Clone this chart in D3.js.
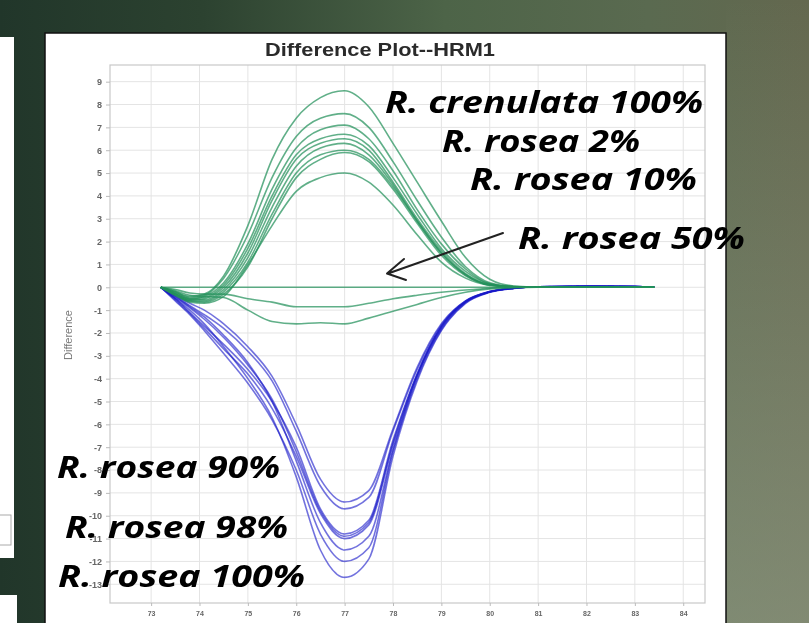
<!DOCTYPE html>
<html><head><meta charset="utf-8">
<script src="https://cdn.jsdelivr.net/npm/d3@7"></script>
<style>html,body{margin:0;padding:0;overflow:hidden;background:#2a3d2c}</style>
</head><body>
<svg id="c" width="809" height="623"></svg>
<script>
// ---- data ----
const temps = [73.2, 73.5, 73.8, 74.1, 74.5, 75, 75.5, 76, 76.5, 77, 77.5, 78, 78.5, 79, 79.5, 80, 80.5, 81, 82, 83, 83.4];

const greenSeries = [
  [0,-0.2,-0.4,-0.3,0.5,2.7,5.6,7.4,8.3,8.6,7.9,6.3,4.6,2.9,1.3,0.35,0.05,0,0,0,0],
  [0,-0.2,-0.45,-0.35,0.4,2.3,4.8,6.6,7.4,7.6,7.0,5.5,3.8,2.2,0.9,0.2,0.03,0,0,0,0],
  [0,-0.25,-0.5,-0.4,0.2,1.9,4.3,6.1,6.9,7.1,6.5,5.1,3.4,1.9,0.8,0.15,0.02,0,0,0,0],
  [0,-0.25,-0.5,-0.45,0.1,1.7,4.0,5.8,6.5,6.7,6.2,4.8,3.2,1.7,0.7,0.15,0.02,0,0,0,0],
  [0,-0.3,-0.55,-0.5,0,1.5,3.8,5.6,6.3,6.5,6.0,4.6,3.0,1.6,0.6,0.12,0.02,0,0,0,0],
  [0,-0.3,-0.55,-0.55,-0.1,1.3,3.5,5.3,6.1,6.3,5.8,4.5,2.9,1.5,0.55,0.1,0.02,0,0,0,0],
  [0,-0.3,-0.6,-0.6,-0.2,1.1,3.2,5.0,5.8,6.0,5.6,4.4,2.9,1.5,0.55,0.1,0.02,0,0,0,0],
  [0,-0.35,-0.6,-0.65,-0.3,0.9,3.0,4.8,5.6,5.9,5.5,4.3,2.8,1.4,0.5,0.1,0.02,0,0,0,0],
  [0,-0.35,-0.65,-0.7,-0.4,1.0,2.7,4.2,4.8,5.0,4.6,3.6,2.3,1.1,0.4,0.08,0.01,0,0,0,0],
  [0,0,0,0,0,0,0,0,0,0,0,0,0,0,0,0,0,0,0,0,0],
  [0,-0.1,-0.25,-0.3,-0.3,-0.5,-0.65,-0.85,-0.85,-0.85,-0.7,-0.5,-0.35,-0.22,-0.12,-0.04,0,0,0,0,0],
  [0,-0.15,-0.35,-0.4,-0.45,-1.0,-1.5,-1.6,-1.55,-1.6,-1.35,-1.05,-0.75,-0.45,-0.22,-0.07,-0.02,0,0,0,0]
];

const blueSeries = [
  [0,-0.35,-0.7,-1.0,-1.6,-2.6,-3.9,-6.0,-8.4,-9.4,-8.9,-6.2,-3.5,-1.6,-0.6,-0.18,-0.04,0.02,0.04,0.03,0.02],
  [0,-0.4,-0.8,-1.2,-1.8,-2.8,-4.1,-6.3,-8.7,-9.7,-9.2,-6.3,-3.6,-1.65,-0.6,-0.19,-0.04,0.02,0.04,0.03,0.02],
  [0,-0.5,-1.1,-1.7,-2.5,-3.6,-5.0,-7.0,-9.7,-10.8,-10.2,-6.7,-3.8,-1.7,-0.62,-0.2,-0.04,0.02,0.04,0.03,0.02],
  [0,-0.45,-0.9,-1.4,-2.2,-3.4,-4.9,-7.2,-9.8,-10.9,-10.3,-6.8,-3.8,-1.72,-0.63,-0.2,-0.04,0.02,0.04,0.03,0.02],
  [0,-0.55,-1.15,-1.8,-2.7,-3.8,-5.3,-7.4,-9.9,-11.0,-10.4,-6.9,-3.85,-1.75,-0.64,-0.2,-0.04,0.02,0.04,0.03,0.02],
  [0,-0.4,-0.85,-1.3,-2.1,-3.3,-5.0,-7.6,-10.3,-11.5,-10.9,-7.1,-3.9,-1.8,-0.65,-0.21,-0.04,0.02,0.04,0.03,0.02],
  [0,-0.6,-1.2,-1.9,-2.9,-4.2,-5.8,-8.0,-10.8,-12.0,-11.4,-7.2,-4.0,-1.85,-0.68,-0.21,-0.04,0.02,0.04,0.03,0.02],
  [0,-0.5,-1.0,-1.6,-2.6,-4.0,-5.7,-8.3,-11.5,-12.7,-11.9,-7.4,-4.1,-1.9,-0.7,-0.22,-0.05,0.02,0.04,0.03,0.02]
];

const xTicks = [73,74,75,76,77,78,79,80,81,82,83,84];
const yTicks = [9,8,7,6,5,4,3,2,1,0,-1,-2,-3,-4,-5,-6,-7,-8,-9,-10,-11,-12,-13];
const titleText = "Difference Plot--HRM1";
const yAxisTitle = "Difference";
const labelTexts = ["R. crenulata 100%","R. rosea 2%","R. rosea 10%","R. rosea 50%","R. rosea 90%","R. rosea 98%","R. rosea 100%"];

// ---- drawing ----
const svg = d3.select("#c");
const defs = svg.append("defs");
const bg = defs.append("linearGradient").attr("id","bg").attr("x1","0").attr("x2","1").attr("y1","0").attr("y2","0");
[["0%","#21362a"],["25%","#2c4230"],["55%","#4d6448"],["80%","#5a6a50"],["100%","#64684f"]]
  .forEach(s=>bg.append("stop").attr("offset",s[0]).attr("stop-color",s[1]));
const bg2 = defs.append("linearGradient").attr("id","bg2").attr("x1","0").attr("x2","0").attr("y1","0").attr("y2","1");
bg2.append("stop").attr("offset","0%").attr("stop-color","#9aa690").attr("stop-opacity",0);
bg2.append("stop").attr("offset","100%").attr("stop-color","#9aa690").attr("stop-opacity",0.55);
defs.append("filter").attr("id","soft").append("feGaussianBlur").attr("stdDeviation",0.35);

svg.append("rect").attr("width",809).attr("height",623).attr("fill","url(#bg)");
svg.append("rect").attr("x",726).attr("width",83).attr("height",623).attr("fill","url(#bg2)");

// left white strips
svg.append("rect").attr("x",-2).attr("y",37).attr("width",16).attr("height",521).attr("fill","#fff");
svg.append("rect").attr("x",-2).attr("y",515).attr("width",13).attr("height",30).attr("fill","#fff").attr("stroke","#aaa").attr("stroke-width",1);
svg.append("rect").attr("x",-2).attr("y",595).attr("width",19).attr("height",40).attr("fill","#fff");

// chart panel
svg.append("rect").attr("x",45).attr("y",33).attr("width",681).attr("height",610)
  .attr("fill","#fff").attr("stroke","#111").attr("stroke-width",1.5);

const L=110, R=705, T=65, B=603;
const x = d3.scaleLinear().domain([72.15, 84.45]).range([L, R]);
const y = d3.scaleLinear().domain([-13.82, 9.73]).range([B, T]);

const g = svg.append("g").attr("filter","url(#soft)");

// grid
g.append("g").selectAll("line").data(yTicks).join("line")
  .attr("x1",L).attr("x2",R).attr("y1",d=>y(d)).attr("y2",d=>y(d))
  .attr("stroke","#e4e4e4").attr("stroke-width",1);
g.append("g").selectAll("line").data(xTicks).join("line")
  .attr("y1",T).attr("y2",B).attr("x1",d=>x(d)).attr("x2",d=>x(d))
  .attr("stroke","#e4e4e4").attr("stroke-width",1);
g.append("rect").attr("x",L).attr("y",T).attr("width",R-L).attr("height",B-T)
  .attr("fill","none").attr("stroke","#c8c8c8").attr("stroke-width",1.2);

// axes
const yAxis = d3.axisLeft(y).tickValues(yTicks).tickSize(4).tickPadding(4).tickFormat(d=>String(d));
const ya = g.append("g").attr("transform",`translate(${L},0)`).call(yAxis);
const xAxis = d3.axisBottom(x).tickValues(xTicks).tickSize(3).tickPadding(5).tickFormat(d=>String(d));
const xa = g.append("g").attr("transform",`translate(0,${B})`).call(xAxis);
[ya,xa].forEach(a=>{
  a.select(".domain").remove();
  a.selectAll(".tick line").attr("stroke","#bbb");
  a.selectAll(".tick text").attr("fill","#666").attr("font-family","Liberation Sans, Arial, sans-serif")
   .attr("font-weight","bold");
});
ya.selectAll(".tick text").attr("font-size",9);
xa.selectAll(".tick text").attr("font-size",7);

// title
g.append("text").attr("x",380).attr("y",56).attr("text-anchor","middle")
  .attr("font-family","Liberation Sans, Arial, sans-serif").attr("font-weight","bold").attr("font-size",18.5)
  .attr("textLength",230).attr("lengthAdjust","spacingAndGlyphs")
  .attr("fill","#2a2a2a").text(titleText);
g.append("text").attr("transform",`translate(72,335) rotate(-90)`).attr("text-anchor","middle")
  .attr("font-family","Liberation Sans, Arial, sans-serif").attr("font-size",11).attr("fill","#777").text(yAxisTitle);

// lines
const line = d3.line().x((d,i)=>x(temps[i])).y(d=>y(d)).curve(d3.curveMonotoneX);
g.append("clipPath").attr("id","clip").append("rect").attr("x",L).attr("y",T).attr("width",R-L).attr("height",B-T);
const lines = g.append("g").attr("clip-path","url(#clip)");
lines.selectAll("path.b").data(blueSeries).join("path").attr("class","b")
  .attr("d",line).attr("fill","none").attr("stroke","#1818c8").attr("stroke-opacity",0.6).attr("stroke-width",1.6);
lines.selectAll("path.gr").data(greenSeries).join("path").attr("class","gr")
  .attr("d",line).attr("fill","none").attr("stroke","#22905a").attr("stroke-opacity",0.72).attr("stroke-width",1.6);

// arrow
svg.append("path").attr("d",`M503,233 L388,273.5 M404,259 L387,273.5 L406,280`)
  .attr("fill","none").attr("stroke","#222").attr("stroke-width",2).attr("stroke-linecap","round").attr("stroke-linejoin","round");

// labels
const labelPos = [[385,113],[442,152],[470,190],[518,249],[57,478],[65,538],[58,587]];
const labelW = [318,198,227,227,223,223,247];
svg.append("g").selectAll("text").data(labelTexts).join("text")
  .attr("x",(d,i)=>labelPos[i][0]).attr("y",(d,i)=>labelPos[i][1])
  .attr("font-family","'Open Sans', Lato, sans-serif").attr("font-weight","700").attr("font-style","italic")
  .attr("font-size",31).attr("fill","#000")
  .attr("textLength",(d,i)=>labelW[i]).attr("lengthAdjust","spacingAndGlyphs")
  .text(d=>d);
</script>
</body></html>
